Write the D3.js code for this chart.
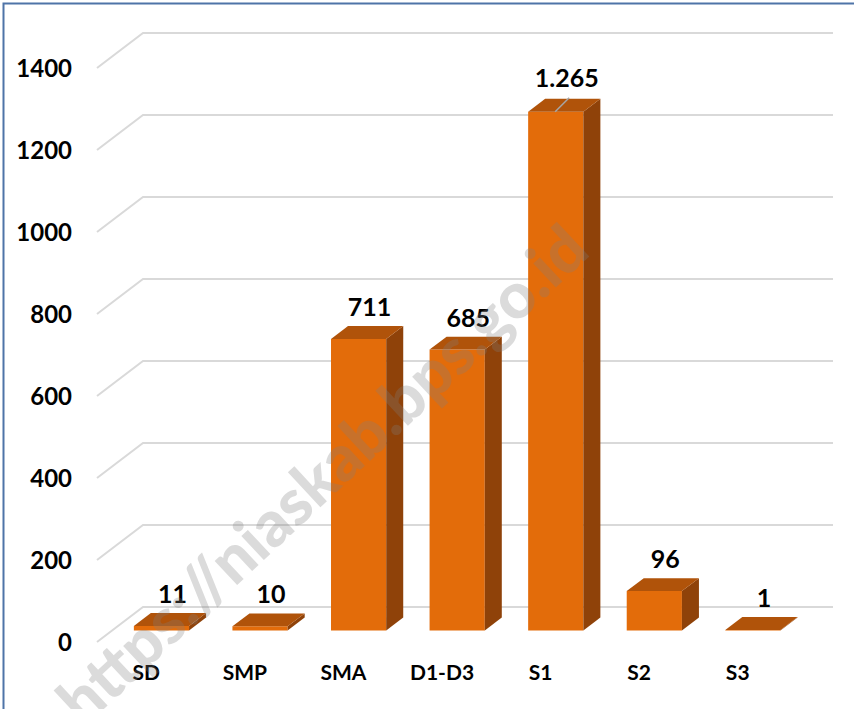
<!DOCTYPE html>
<html>
<head>
<meta charset="utf-8">
<script src="https://cdn.jsdelivr.net/npm/d3@7"></script>
<style>
  body { margin: 0; background: #fff; }
  svg { display: block; }
  text { font-family: Lato, "Open Sans", sans-serif; font-weight: bold; }
</style>
</head>
<body>
<svg id="chart" width="854" height="709"></svg>
<script>
const categories = ["SD", "SMP", "SMA", "D1-D3", "S1", "S2", "S3"];
const values = [11, 10, 711, 685, 1265, 96, 1];
const valueLabels = ["11", "10", "711", "685", "1.265", "96", "1"];
const yTicks = [0, 200, 400, 600, 800, 1000, 1200, 1400];

const svg = d3.select("#chart");

// floor front edge and depth vector (front -> back)
const floorY = 642;
const depth = [46, -35];
const tFront = 0.33, tBack = 0.70;

const x = d3.scaleBand().domain(categories).range([97, 787]).paddingInner(0.44).paddingOuter(0.22);
const h = d3.scaleLinear().domain([0, 1400]).range([0, 574]);

// gridlines: diagonal on the side wall + horizontal on the back wall
const grid = svg.append("g").attr("class", "grid");
grid.selectAll("path")
    .data(yTicks)
    .enter().append("path")
    .attr("d", d => {
        const y0 = floorY - h(d);
        return `M97,${y0}L${97 + depth[0]},${y0 + depth[1]}L833,${y0 + depth[1]}`;
    })
    .style("fill", "none")
    .style("stroke", "#d9d9d9")
    .style("stroke-width", 2);

grid.selectAll("text")
    .data(yTicks)
    .enter().append("text")
    .attr("x", 72)
    .attr("y", d => floorY - h(d))
    .attr("dy", "0.36em")
    .attr("text-anchor", "end")
    .style("font-size", "24px")
    .text(d => d);

// bars
const bars = svg.append("g").attr("class", "bars")
    .selectAll("g")
    .data(categories.map((c, i) => ({ c, v: values[i], label: valueLabels[i] })))
    .enter().append("g");

function geom(d) {
    const x0 = x(d.c) + tFront * depth[0];
    const x1 = x0 + x.bandwidth();
    const yb = floorY + tFront * depth[1];
    const yt = yb - h(d.v);
    const ddx = (tBack - tFront) * depth[0];
    const ddy = (tBack - tFront) * depth[1];
    return { x0, x1, yb, yt, ddx, ddy };
}

bars.append("path")
    .attr("d", d => {
        const g = geom(d);
        return `M${g.x0},${g.yb}L${g.x1},${g.yb}L${g.x1},${g.yt}L${g.x0},${g.yt}Z`;
    })
    .style("fill", "#e36c0a");

bars.append("path")
    .attr("d", d => {
        const g = geom(d);
        return `M${g.x1},${g.yb}L${g.x1 + g.ddx},${g.yb + g.ddy}L${g.x1 + g.ddx},${g.yt + g.ddy}L${g.x1},${g.yt}Z`;
    })
    .style("fill", "#8f4209");

bars.append("path")
    .attr("d", d => {
        const g = geom(d);
        return `M${g.x0},${g.yt}L${g.x1},${g.yt}L${g.x1 + g.ddx},${g.yt + g.ddy}L${g.x0 + g.ddx},${g.yt + g.ddy}Z`;
    })
    .style("fill", "#b0530a");

// leader line for the tall bar
bars.filter(d => d.c === "S1").append("line")
    .attr("x1", d => geom(d).x0 + 27)
    .attr("y1", d => geom(d).yt)
    .attr("x2", d => geom(d).x0 + 41)
    .attr("y2", d => geom(d).yt - 14)
    .style("stroke", "#a6a6a6")
    .style("stroke-width", 1.5);

bars.append("text")
    .attr("x", d => { const g = geom(d); return (g.x0 + g.x1) / 2 + 11; })
    .attr("y", d => { const g = geom(d); return g.yt + g.ddy - (d.c === "S1" ? 12 : 10); })
    .attr("text-anchor", "middle")
    .style("font-size", "25px")
    .text(d => d.label);

// category labels on the front floor edge
svg.append("g").attr("class", "x-axis")
    .selectAll("text")
    .data(categories)
    .enter().append("text")
    .attr("x", d => x(d) + x.bandwidth() / 2)
    .attr("y", 672)
    .attr("dy", "0.36em")
    .attr("text-anchor", "middle")
    .style("font-size", "21px")
    .text(d => d);

// watermark
svg.append("text")
    .attr("transform", "translate(592,254) rotate(-43)")
    .attr("text-anchor", "end")
    .style("font-size", "64px")
    .style("font-weight", 900)
    .style("fill", "#808080")
    .style("opacity", 0.28)
    .text("https://niaskab.bps.go.id");

// frame
svg.append("path")
    .attr("d", "M3.5,709V3.5H854")
    .style("fill", "none")
    .style("stroke", "#4f74a8")
    .style("stroke-width", 2);
</script>
</body>
</html>
